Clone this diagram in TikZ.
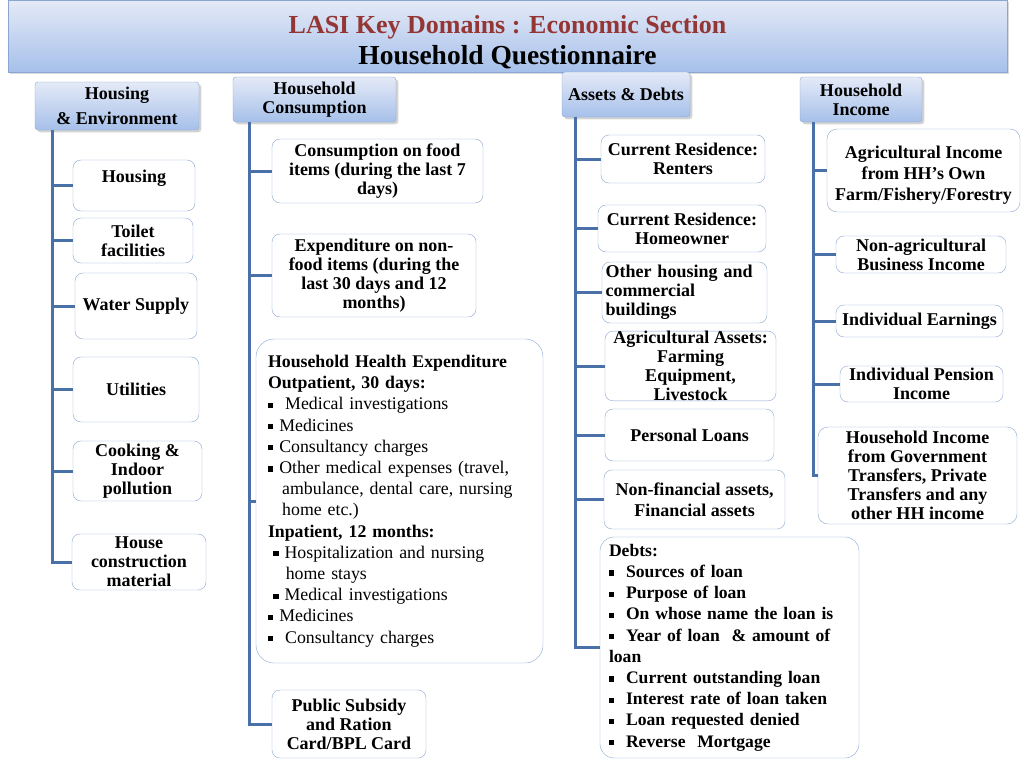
\documentclass[tikz,border=0pt]{standalone}
\usepackage{fontspec}
\setmainfont{Liberation Serif}
\usetikzlibrary{shadows}
\definecolor{trunkblue}{HTML}{4A70A8}
\definecolor{boxline}{HTML}{8AA6D2}
\definecolor{headtop}{HTML}{E4EAF7}
\definecolor{headbot}{HTML}{A6C0EA}
\definecolor{titlered}{HTML}{943634}
\newcommand{\sqb}{\rule[0.1em]{0.3em}{0.3em}}

\begin{document}
\begin{tikzpicture}[x=1pt, y=-1pt]
	\tikzstyle{titlebar} = [draw=boxline, top color=headtop, bottom color=headbot, minimum width=999pt, minimum height=72pt, inner sep=0pt, align=center, drop shadow={opacity=0.3}]
	\tikzstyle{head} = [draw=boxline, rounded corners=3pt, top color=headtop, bottom color=headbot, inner sep=1pt, align=center, font=\fontsize{18}{19}\selectfont\bfseries, drop shadow={opacity=0.35}]
	\tikzstyle{item} = [draw=boxline, rounded corners=8pt, fill=white, inner sep=1pt, align=center, font=\fontsize{18}{19}\selectfont\bfseries]
	\tikzstyle{trunk} = [draw=trunkblue, line width=3pt]
	\useasboundingbox (0,0) rectangle (1024,768);
	% title
	\node[titlebar] (title) at (507.5,36) {{\color{titlered}\fontsize{26}{30}\selectfont\bfseries\rule{0pt}{30pt}LASI Key Domains : Economic Section}\\[5pt]{\fontsize{27.5}{30}\selectfont\bfseries Household Questionnaire}};
	% headers
	\node[head, minimum width=164pt, minimum height=48pt] (hEnv) at (117,106) {Housing\\[6pt]\& Environment};
	\node[head, minimum width=163pt, minimum height=45pt] (hCons) at (314.5,99.5) {Household\\Consumption};
	\node[head, minimum width=128pt, minimum height=45pt] (hAss) at (626,94.5) {Assets \& Debts};
	\node[head, minimum width=122pt, minimum height=45pt] (hInc) at (861,99.5) {Household\\Income};
	% housing & environment
	\node[item, minimum width=122pt, minimum height=51pt] (housing) at (134,185.5) {Housing\\ \mbox{}};
	\node[item, minimum width=120pt, minimum height=45pt] (toilet) at (133,240.5) {Toilet\\facilities};
	\node[item, minimum width=122pt, minimum height=66pt] (water) at (136,306) {Water Supply};
	\node[item, minimum width=126pt, minimum height=65pt] (util) at (136,389.5) {Utilities};
	\node[item, minimum width=129pt, minimum height=60pt] (cook) at (137.5,471) {Cooking \&\\Indoor\\pollution};
	\node[item, minimum width=134pt, minimum height=56pt] (constr) at (139,562) {House\\construction\\material};
	% consumption
	\node[item, minimum width=211pt, minimum height=64pt] (food) at (377.5,171) {Consumption on food\\items (during the last 7\\days)};
	\node[item, minimum width=204pt, minimum height=83pt] (nonfood) at (374,275.5) {Expenditure on non-\\food items (during the\\last 30 days and 12\\months)};
	\node[item, rounded corners=18pt, minimum width=287pt, minimum height=324pt, align=left, font=\fontsize{17.8}{21.2}\selectfont, text width=263pt] (health) at (399.5,501) {%
		\textbf{Household Health Expenditure}\\
		\textbf{Outpatient, 30 days:}\\
		\sqb\ \ Medical investigations\\
		\sqb\ Medicines\\
		\sqb\ Consultancy charges\\
		\sqb\ Other medical expenses (travel,\\
		\hspace*{0.8em}ambulance, dental care, nursing\\
		\hspace*{0.8em}home etc.)\\
		\textbf{Inpatient, 12 months:}\\
		\hspace*{0.3em}\sqb\ Hospitalization and nursing\\
		\hspace*{1em}home stays\\
		\hspace*{0.3em}\sqb\ Medical investigations\\
		\sqb\ Medicines\\
		\sqb\ \ Consultancy charges};
	\node[item, minimum width=154pt, minimum height=68pt] (subsidy) at (349,724) {Public Subsidy\\and Ration\\Card/BPL Card};
	% assets & debts
	\node[item, minimum width=164pt, minimum height=48pt] (renters) at (683,159) {Current Residence:\\Renters};
	\node[item, minimum width=168pt, minimum height=47pt] (owner) at (682,228.5) {Current Residence:\\Homeowner};
	\node[item, minimum width=165pt, minimum height=61pt, align=left, text width=158pt] (other) at (684.5,292.5) {Other housing and\\commercial\\buildings};
	\node[item, minimum width=171pt, minimum height=68pt, inner sep=0pt] (agri) at (690.5,366) {Agricultural Assets:\\Farming\\Equipment,\\Livestock};
	\node[item, minimum width=169pt, minimum height=52pt] (loans) at (689.5,435) {Personal Loans};
	\node[item, minimum width=181pt, minimum height=59pt, font=\fontsize{18}{21}\selectfont\bfseries] (nonfin) at (694.5,499.5) {Non-financial assets,\\Financial assets};
	\node[item, rounded corners=14pt, minimum width=259pt, minimum height=221pt, align=left, text width=241pt, font=\fontsize{17.6}{21.2}\selectfont\bfseries] (debts) at (729.5,647.5) {%
		Debts:\\
		\sqb\ \ Sources of loan\\
		\sqb\ \ Purpose of loan\\
		\sqb\ \ On whose name the loan is\\
		\sqb\ \ Year of loan \ \& amount of\\
		loan\\
		\sqb\ \ Current outstanding loan\\
		\sqb\ \ Interest rate of loan taken\\
		\sqb\ \ Loan requested denied\\
		\sqb\ \ Reverse \ Mortgage};
	% household income
	\node[item, rounded corners=10pt, minimum width=193pt, minimum height=83pt, font=\fontsize{18}{21}\selectfont\bfseries] (agrinc) at (923.5,170.5) {\rule{0pt}{22pt}Agricultural Income\\from HH's Own\\Farm/Fishery/Forestry};
	\node[item, minimum width=170pt, minimum height=37pt] (nonagri) at (921,254.5) {Non-agricultural\\Business Income};
	\node[item, minimum width=167pt, minimum height=32pt] (earn) at (919.5,321) {Individual Earnings};
	\node[item, minimum width=163pt, minimum height=36pt] (pension) at (921.5,384) {Individual Pension\\Income};
	\node[item, rounded corners=10pt, minimum width=199pt, minimum height=97pt] (govt) at (917.5,475.5) {Household Income\\from Government\\Transfers, Private\\Transfers and any\\other HH income};
	% trunks
	\coordinate (tEnv) at (52,130);
	\coordinate (tCons) at (249,122);
	\coordinate (tAss) at (575,117);
	\coordinate (tInc) at (813,122);
	\draw[trunk] (tEnv) |- (constr.west);
	\foreach \b in {housing, toilet, water, util, cook}
		\draw[trunk] (tEnv |- \b.west) -- (\b.west);
	\draw[trunk] (tCons) |- (subsidy.west);
	\foreach \b in {food, nonfood, health}
		\draw[trunk] (tCons |- \b.west) -- (\b.west);
	\draw[trunk] (tAss) |- (debts.west);
	\foreach \b in {renters, owner, other, agri, loans, nonfin}
		\draw[trunk] (tAss |- \b.west) -- (\b.west);
	\draw[trunk] (tInc) |- (govt.west);
	\foreach \b in {agrinc, nonagri, earn, pension}
		\draw[trunk] (tInc |- \b.west) -- (\b.west);
\end{tikzpicture}
\end{document}
